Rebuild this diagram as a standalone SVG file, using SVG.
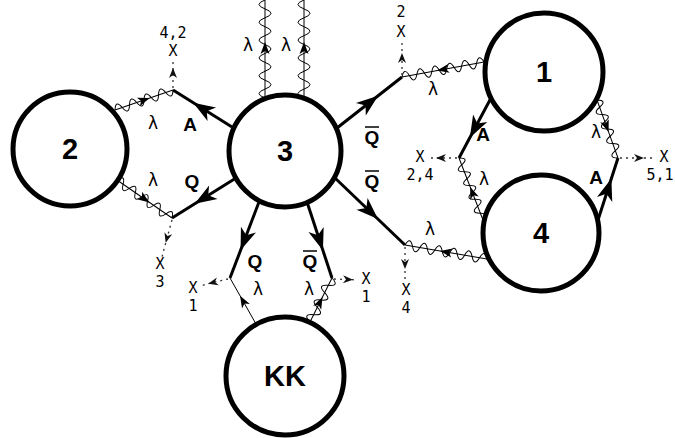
<svg xmlns="http://www.w3.org/2000/svg" width="675" height="438" viewBox="0 0 675 438">
<style>
.node circle{fill:#fff;stroke:#000;stroke-width:5}
.nl{font-family:"Liberation Sans",Arial,sans-serif;font-weight:bold;font-size:29px;text-anchor:middle}
.thick{stroke:#000;stroke-width:3;fill:none;marker-mid:url(#big)}
.thin{stroke:#000;stroke-width:1;fill:none;marker-mid:url(#sm)}
.wave{stroke:#000;stroke-width:1;fill:none}
.dot{stroke:#333;stroke-width:1.3;stroke-dasharray:2 4;fill:none;marker-mid:url(#dh)}
.b{font-family:"Liberation Sans",Arial,sans-serif;font-weight:bold;font-size:19px;text-anchor:middle}
.lam{font-family:"DejaVu Sans",sans-serif;font-size:17px;text-anchor:middle}
.x{font-family:"DejaVu Sans Mono",monospace;font-size:15px;text-anchor:middle}
.bar{stroke:#000;stroke-width:1.5}
</style>
<defs>
<marker id="big" viewBox="-12 -9 24 18" markerWidth="24" markerHeight="18" refX="0" refY="0" orient="auto" markerUnits="userSpaceOnUse"><path d="M11,0 L-11,-8 L-5,0 L-11,8Z" fill="#000"/></marker>
<marker id="sm" viewBox="-8 -6 16 12" markerWidth="16" markerHeight="12" refX="0" refY="0" orient="auto" markerUnits="userSpaceOnUse"><path d="M6,0 L-6,-4.5 L-3,0 L-6,4.5Z" fill="#000"/></marker>
<marker id="dh" viewBox="-7 -5 14 10" markerWidth="14" markerHeight="10" refX="0" refY="0" orient="auto" markerUnits="userSpaceOnUse"><path d="M5,0 L-5,-4 L-2,0 L-5,4Z" fill="#111"/></marker>
</defs>

<g id="connectors">
<path class="thick" d="M232,127 L202.5,108.5 L173,90"/>
<path class="thick" d="M236,178 L204,198 L172,218"/>
<path class="thick" d="M337,128 L369.5,102.5 L402,77"/>
<path class="thick" d="M335,178 L370,211.5 L405,245"/>
<path class="thick" d="M259,202 L244.5,240 L230,278"/>
<path class="thick" d="M307,202 L319.5,240 L332,278"/>
<path class="thick" d="M491,98 L475,128 L459,158"/>
<path class="thick" d="M598,220 L608,189 L618,158"/>
<path class="thin" d="M256,324 L243,301 L230,278"/>
<g transform="translate(115,110) rotate(-19.03)"><path class="thin" d="M0,0 L30.7,0 L61.35,0"/><path class="wave" d="M0,0q3.83,-10 7.67,0t7.67,0 7.67,0 7.67,0 7.67,0 7.67,0 7.67,0 7.67,0"/></g>
<g transform="translate(117,180) rotate(34.64)"><path class="thin" d="M0,0 L33.4,0 L66.85,0"/><path class="wave" d="M0,0q3.71,-10 7.43,0t7.43,0 7.43,0 7.43,0 7.43,0 7.43,0 7.43,0 7.43,0 7.43,0"/></g>
<g transform="translate(265,98) rotate(-90)"><path class="thin" d="M0,0 L50,0 L98,0"/><path class="wave" d="M0,0q4.45,-12 8.91,0t8.91,0 8.91,0 8.91,0 8.91,0 8.91,0 8.91,0 8.91,0 8.91,0 8.91,0 8.91,0"/></g>
<g transform="translate(304,98) rotate(-90)"><path class="thin" d="M0,0 L50,0 L98,0"/><path class="wave" d="M0,0q4.45,-12 8.91,0t8.91,0 8.91,0 8.91,0 8.91,0 8.91,0 8.91,0 8.91,0 8.91,0 8.91,0 8.91,0"/></g>
<g transform="translate(402,77) rotate(-10.37)"><path class="thin" d="M83.36,0 L41.7,0 L0,0"/><path class="wave" d="M0,0q3.79,-10 7.58,0t7.58,0 7.58,0 7.58,0 7.58,0 7.58,0 7.58,0 7.58,0 7.58,0 7.58,0 7.58,0"/></g>
<g transform="translate(405,245) rotate(9.69)"><path class="thin" d="M83.19,0 L41.6,0 L0,0"/><path class="wave" d="M0,0q3.78,-10 7.56,0t7.56,0 7.56,0 7.56,0 7.56,0 7.56,0 7.56,0 7.56,0 7.56,0 7.56,0 7.56,0"/></g>
<g transform="translate(459,158) rotate(68.84)"><path class="thin" d="M66.48,0 L37,0 L0,0"/><path class="wave" d="M0,0q3.69,-10 7.39,0t7.39,0 7.39,0 7.39,0 7.39,0 7.39,0 7.39,0 7.39,0 7.39,0"/></g>
<g transform="translate(597,100) rotate(70.1)"><path class="thin" d="M0,0 L28,0 L61.68,0"/><path class="wave" d="M0,0q3.86,-10 7.71,0t7.71,0 7.71,0 7.71,0 7.71,0 7.71,0 7.71,0 7.71,0"/></g>
<g transform="translate(310,322) rotate(-63.43)"><path class="thin" d="M0,0 L22,0 L49.19,0"/><path class="wave" d="M0,0q4.1,-11 8.2,0t8.2,0 8.2,0 8.2,0 8.2,0 8.2,0"/></g>
<path class="dot" d="M173,88 L173,73 L173,59"/>
<path class="dot" d="M172,220 L167,238 L162,257"/>
<path class="dot" d="M402,75 L402,58 L402,42"/>
<path class="dot" d="M405,247 L405,264 L405,281"/>
<path class="dot" d="M457,158 L441,158 L428,158"/>
<path class="dot" d="M620,158 L639,158 L655,158"/>
<path class="dot" d="M228,279 L213,282.5 L200,286"/>
<path class="dot" d="M334,279 L348,279.5 L358,280"/>
</g>

<g id="node2" class="node"><circle cx="70" cy="149" r="57"/><text class="nl" x="70" y="159">2</text></g>
<g id="node3" class="node"><circle cx="285" cy="151" r="56"/><text class="nl" x="285" y="161">3</text></g>
<g id="node1" class="node"><circle cx="544" cy="72" r="59"/><text class="nl" x="544" y="82">1</text></g>
<g id="node4" class="node"><circle cx="541" cy="233" r="58"/><text class="nl" x="541" y="243">4</text></g>
<g id="nodeKK" class="node"><circle cx="285" cy="376" r="59"/><text class="nl" x="285" y="386">KK</text></g>

<g id="labels">
<text class="b" x="190" y="131">A</text>
<text class="b" x="192" y="188">Q</text>
<text class="b" x="372" y="144">Q</text><line class="bar" x1="365" y1="127" x2="379" y2="127"/>
<text class="b" x="372" y="188">Q</text><line class="bar" x1="365" y1="171" x2="379" y2="171"/>
<text class="b" x="255" y="268">Q</text>
<text class="b" x="310" y="268">Q</text><line class="bar" x1="303" y1="251" x2="317" y2="251"/>
<text class="b" x="483" y="141">A</text>
<text class="b" x="596" y="184">A</text>
<text class="lam" x="153" y="129">λ</text>
<text class="lam" x="153" y="186">λ</text>
<text class="lam" x="248" y="51">λ</text>
<text class="lam" x="286" y="51">λ</text>
<text class="lam" x="433" y="95">λ</text>
<text class="lam" x="430" y="235">λ</text>
<text class="lam" x="484" y="185">λ</text>
<text class="lam" x="596" y="138">λ</text>
<text class="lam" x="258" y="295">λ</text>
<text class="lam" x="309" y="295">λ</text>
<text class="x" x="173" y="38">4,2</text><text class="x" x="173" y="56">X</text>
<text class="x" x="160" y="269">X</text><text class="x" x="160" y="287">3</text>
<text class="x" x="401" y="17">2</text><text class="x" x="401" y="37">X</text>
<text class="x" x="406" y="295">X</text><text class="x" x="406" y="313">4</text>
<text class="x" x="420" y="162">X</text><text class="x" x="420" y="180">2,4</text>
<text class="x" x="664" y="162">X</text><text class="x" x="660" y="180">5,1</text>
<text class="x" x="193" y="293">X</text><text class="x" x="193" y="311">1</text>
<text class="x" x="366" y="284">X</text><text class="x" x="366" y="302">1</text>
</g>
</svg>
